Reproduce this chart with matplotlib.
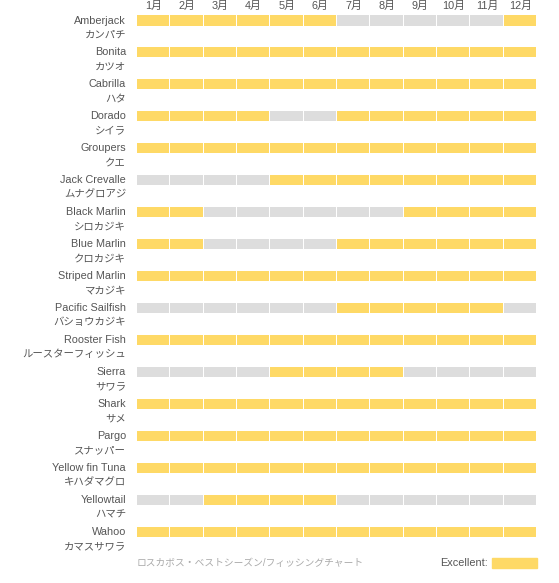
import numpy as np
import matplotlib.pyplot as plt

plt.rcParams['font.family'] = ['Liberation Sans', 'Noto Sans CJK JP', 'DejaVu Sans']

# Data
months = ["1月", "2月", "3月", "4月", "5月", "6月", "7月", "8月", "9月", "10月", "11月", "12月"]

species_en = ["Amberjack", "Bonita", "Cabrilla", "Dorado", "Groupers", "Jack Crevalle",
              "Black Marlin", "Blue Marlin", "Striped Marlin", "Pacific Sailfish",
              "Rooster Fish", "Sierra", "Shark", "Pargo", "Yellow fin Tuna",
              "Yellowtail", "Wahoo"]
species_ja = ["カンパチ", "カツオ", "ハタ", "シイラ", "クエ", "ムナグロアジ",
              "シロカジキ", "クロカジキ", "マカジキ", "バショウカジキ",
              "ルースターフィッシュ", "サワラ", "サメ", "スナッパー", "キハダマグロ",
              "ハマチ", "カマスサワラ"]

# 1 = excellent, 0 = off season
season = [
    [1, 1, 1, 1, 1, 1, 0, 0, 0, 0, 0, 1],  # Amberjack
    [1, 1, 1, 1, 1, 1, 1, 1, 1, 1, 1, 1],  # Bonita
    [1, 1, 1, 1, 1, 1, 1, 1, 1, 1, 1, 1],  # Cabrilla
    [1, 1, 1, 1, 0, 0, 1, 1, 1, 1, 1, 1],  # Dorado
    [1, 1, 1, 1, 1, 1, 1, 1, 1, 1, 1, 1],  # Groupers
    [0, 0, 0, 0, 1, 1, 1, 1, 1, 1, 1, 1],  # Jack Crevalle
    [1, 1, 0, 0, 0, 0, 0, 0, 1, 1, 1, 1],  # Black Marlin
    [1, 1, 0, 0, 0, 0, 1, 1, 1, 1, 1, 1],  # Blue Marlin
    [1, 1, 1, 1, 1, 1, 1, 1, 1, 1, 1, 1],  # Striped Marlin
    [0, 0, 0, 0, 0, 0, 1, 1, 1, 1, 1, 0],  # Pacific Sailfish
    [1, 1, 1, 1, 1, 1, 1, 1, 1, 1, 1, 1],  # Rooster Fish
    [0, 0, 0, 0, 1, 1, 1, 1, 0, 0, 0, 0],  # Sierra
    [1, 1, 1, 1, 1, 1, 1, 1, 1, 1, 1, 1],  # Shark
    [1, 1, 1, 1, 1, 1, 1, 1, 1, 1, 1, 1],  # Pargo
    [1, 1, 1, 1, 1, 1, 1, 1, 1, 1, 1, 1],  # Yellow fin Tuna
    [0, 0, 1, 1, 1, 1, 0, 0, 0, 0, 0, 0],  # Yellowtail
    [1, 1, 1, 1, 1, 1, 1, 1, 1, 1, 1, 1],  # Wahoo
]

yellow = "#fed966"
grey = "#dddddd"
text_col = "#555555"

W, H = 559, 583
fig = plt.figure(figsize=(W / 100, H / 100), dpi=100)

# axes placed in pixel space: columns 137..537, rows centred at 20.5 + i*31.94
row_h = 31.94
top = 20.5 - 0.5 * row_h
bottom = 20.5 + 16.5 * row_h
ax = fig.add_axes([137 / W, 1 - bottom / H, 400 / W, (bottom - top) / H])

for i, row in enumerate(season):
    for j, v in enumerate(row):
        ax.barh(i, 0.97, left=j, height=0.315, color=yellow if v else grey,
                linewidth=0)
    ax.text(-0.33, i, species_en[i], ha="right", va="center",
            fontsize=7.8, color=text_col)
    ax.text(-0.33, i + 0.45, species_ja[i], ha="right", va="center",
            fontsize=7.5, color=text_col)

for j, m in enumerate(months):
    ax.text(j + 0.5, -0.45, m, ha="center", va="center",
            fontsize=7.8, color=text_col, clip_on=False)

ax.set_xlim(0, 12)
ax.set_ylim(16.5, -0.5)
ax.axis("off")

# footer
fig.text(137 / W, 1 - 563 / H, "ロスカボス・ベストシーズン/フィッシングチャート",
         ha="left", va="center", fontsize=7, color="#aaaaaa")
fig.text(488 / W, 1 - 563 / H, "Excellent:", ha="right", va="center",
         fontsize=7.8, color=text_col)
fig.patches.append(plt.Rectangle((492 / W, 1 - 568 / H), 45 / W, 10 / H,
                                 transform=fig.transFigure, color=yellow))

fig.savefig("out.png", dpi=100)
